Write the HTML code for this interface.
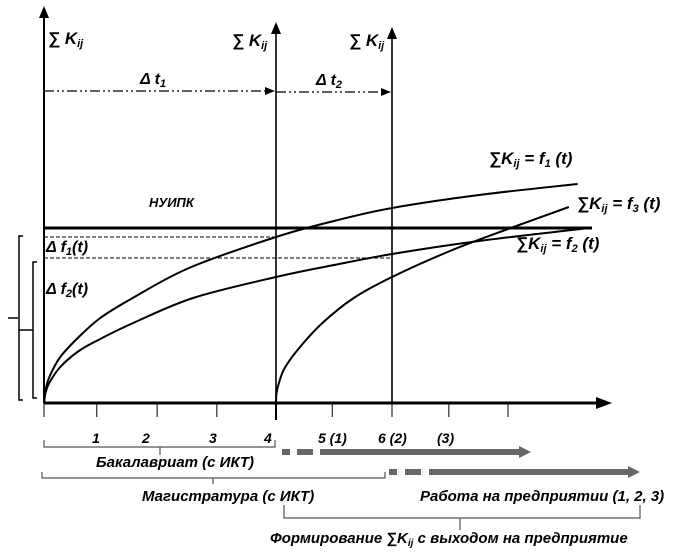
<!DOCTYPE html>
<html><head><meta charset="utf-8"><style>
body{margin:0;background:#fff;}
svg{display:block;font-family:"Liberation Sans Narrow","Liberation Sans",sans-serif;font-weight:bold;font-style:italic;}
</style></head><body>
<svg id="c" width="686" height="560" viewBox="0 0 686 560">
<g id="axes">
<line x1="44" y1="403" x2="44" y2="14" stroke="#000" stroke-width="2"/>
<polygon points="44,6 39,18 49,18" fill="#000"/>
<line x1="276" y1="420" x2="276" y2="30" stroke="#000" stroke-width="1.6"/>
<polygon points="276,22 271,34 281,34" fill="#000"/>
<line x1="392" y1="403" x2="392" y2="34" stroke="#000" stroke-width="1.6"/>
<polygon points="392,27 387,39 397,39" fill="#000"/>
<line x1="44" y1="403" x2="600" y2="403" stroke="#000" stroke-width="3"/>
<polygon points="612,403 596,397 596,409" fill="#000"/>
</g>
<g id="ticks"></g>
<text x="48" y="44" font-size="17">∑ K<tspan font-size="11" dy="3">ij</tspan></text>
<text x="232" y="46" font-size="17">∑ K<tspan font-size="11" dy="3">ij</tspan></text>
<text x="349" y="46" font-size="17">∑ K<tspan font-size="11" dy="3">ij</tspan></text>
<line x1="44" y1="91" x2="266" y2="91" stroke="#000" stroke-width="1.2" stroke-dasharray="10,3,2,3,2,3"/>
<polygon points="275,91 265,87 265,95" fill="#000"/>
<line x1="276" y1="92" x2="382" y2="92" stroke="#000" stroke-width="1.2" stroke-dasharray="10,3,2,3,2,3"/>
<polygon points="391,92 381,88 381,96" fill="#000"/>
<text x="140" y="84" font-size="16">Δ t<tspan font-size="11" dy="3">1</tspan></text>
<text x="316" y="85" font-size="16">Δ t<tspan font-size="11" dy="3">2</tspan></text>
<text x="149" y="207" font-size="13">НУИПК</text>
<line x1="44" y1="228" x2="592" y2="228" stroke="#000" stroke-width="3"/>
<line x1="44" y1="237" x2="276" y2="237" stroke="#000" stroke-dasharray="4,2"/>
<line x1="44" y1="258" x2="392" y2="258" stroke="#000" stroke-dasharray="4,2"/>
<text x="46" y="252" font-size="16">Δ f<tspan font-size="11" dy="3">1</tspan><tspan dy="-3">(t)</tspan></text>
<text x="46" y="294" font-size="16">Δ f<tspan font-size="11" dy="3">2</tspan><tspan dy="-3">(t)</tspan></text>
<path d="M23,236 H19 V400 H23 M37,262 H33 V398 H37 M19,330 H33 M8,318 H18" fill="none" stroke="#000" stroke-width="1.5"/>
<g id="curves"></g>
<text x="489" y="164" font-size="17">∑K<tspan font-size="11" dy="3">ij</tspan><tspan dy="-3"> = f</tspan><tspan font-size="11" dy="3">1</tspan><tspan dy="-3"> (t)</tspan></text>
<text x="577" y="209" font-size="17">∑K<tspan font-size="11" dy="3">ij</tspan><tspan dy="-3"> = f</tspan><tspan font-size="11" dy="3">3</tspan><tspan dy="-3"> (t)</tspan></text>
<text x="516" y="249" font-size="17">∑K<tspan font-size="11" dy="3">ij</tspan><tspan dy="-3"> = f</tspan><tspan font-size="11" dy="3">2</tspan><tspan dy="-3"> (t)</tspan></text>
<g font-size="14">
<text x="92" y="443">1</text><text x="142" y="443">2</text><text x="209" y="443">3</text><text x="264" y="443">4</text>
<text x="318" y="443">5 (1)</text><text x="378" y="443">6 (2)</text><text x="437" y="443">(3)</text></g>
<path d="M44,440 V447 H275 V440 M160,447 V455" fill="none" stroke="#555" stroke-width="1.2"/>
<text x="96" y="467" font-size="15">Бакалавриат (с ИКТ)</text>
<path d="M42,472 V478 H385 V472 M213,478 V484" fill="none" stroke="#555" stroke-width="1.2"/>
<text x="142" y="501" font-size="15">Магистратура (с ИКТ)</text>
<text x="420" y="501" font-size="15">Работа на предприятии (1, 2, 3)</text>
<path d="M284,505 V518 H640 V505 M460,518 V530" fill="none" stroke="#555" stroke-width="1.2"/>
<text x="270" y="543" font-size="15">Формирование ∑K<tspan font-size="10" dy="3">ij</tspan><tspan dy="-3"> с выходом на предприятие</tspan></text>
<g fill="#666">
<rect x="282" y="449" width="8" height="6"/><rect x="297" y="449" width="16" height="6"/>
<rect x="320" y="449" width="200" height="6"/><polygon points="531,452 519,446 519,458"/>
<rect x="389" y="469" width="8" height="6"/><rect x="405" y="469" width="16" height="6"/>
<rect x="429" y="469" width="200" height="6"/><polygon points="640,472 628,466 628,478"/>
</g>
</svg>
<script>
const tickT=[0,0.91,1.95,2.98,4,4.97,6,6.98,8];
const f1T=[0,0.03,0.1,0.28,0.6,0.97,1.5,2.5,4,5,6,7.5,9.2];
const f1V=[0,14,27,46,66,85,104,135,166,182,195,208,219];
const f2T=[0,0.03,0.1,0.28,0.6,0.97,1.5,2.57,4,5,6,7.5,9.4];
const f2V=[0,11,21,36,52,64,79,105,126,138,149,162,175];
const f3T=[4,4.01,4.05,4.15,4.4,4.8,5.34,6,7,8,9.05];
const f3V=[0,10,20,35,55,80,105,126,152,174,196];
const xs=t=>44+t*58;
const ys=v=>403-v;
const NS='http://www.w3.org/2000/svg';
const tg=document.getElementById('ticks');
tickT.forEach(t=>{const l=document.createElementNS(NS,'line');
l.setAttribute('x1',xs(t));l.setAttribute('x2',xs(t));l.setAttribute('y1',403);l.setAttribute('y2',t===4?420:417);
l.setAttribute('stroke','#000');l.setAttribute('stroke-width',t===4?2:1);


tg.appendChild(l);});
function path(T,V){const p=T.map((t,i)=>[xs(t),ys(V[i])]);let d='M'+p[0][0]+','+p[0][1];
for(let i=0;i<p.length-1;i++){const p0=p[Math.max(0,i-1)],p1=p[i],p2=p[i+1],p3=p[Math.min(p.length-1,i+2)];
const c1=[p1[0]+(p2[0]-p0[0])/6,p1[1]+(p2[1]-p0[1])/6],c2=[p2[0]-(p3[0]-p1[0])/6,p2[1]-(p3[1]-p1[1])/6];
d+=` C${c1[0]},${c1[1]} ${c2[0]},${c2[1]} ${p2[0]},${p2[1]}`;}return d;}
const cg=document.getElementById('curves');
[[f1T,f1V,'curve-f1'],[f2T,f2V,'curve-f2'],[f3T,f3V,'curve-f3']].forEach(([T,V,n])=>{
const p=document.createElementNS(NS,'path');p.setAttribute('d',path(T,V));p.setAttribute('fill','none');
p.setAttribute('stroke','#000');p.setAttribute('stroke-width','2');


cg.appendChild(p);});
</script>
</body></html>
